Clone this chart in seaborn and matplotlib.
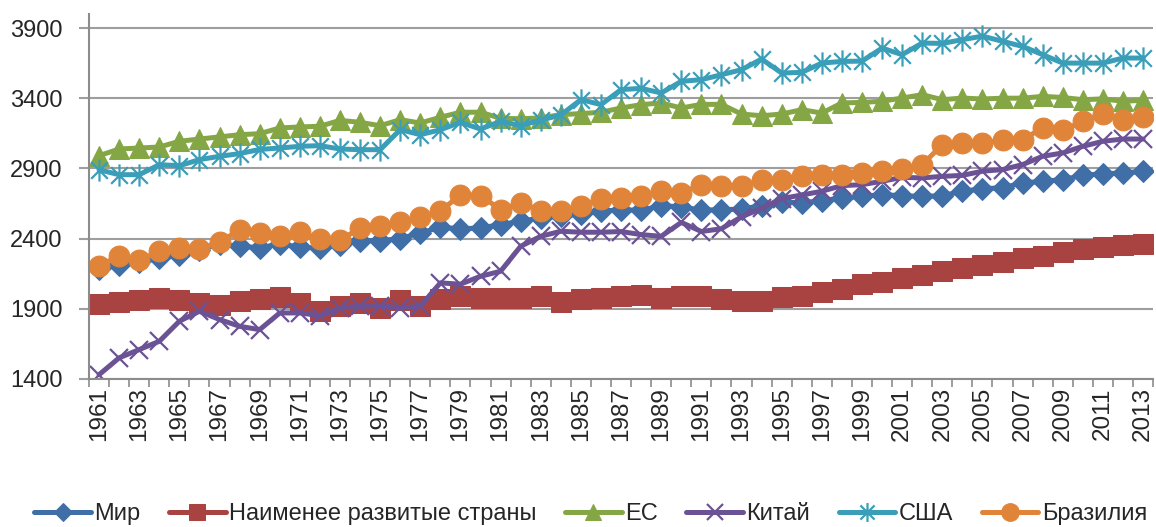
import numpy as np
import pandas as pd
import matplotlib
matplotlib.use("Agg")
import matplotlib.pyplot as plt
from matplotlib.path import Path
from matplotlib.ticker import FixedLocator
import seaborn as sns

years = list(range(1961, 2014))

world = [2180, 2210, 2230, 2260, 2280, 2320, 2360, 2345, 2335, 2360,
         2340, 2330, 2355, 2385, 2385, 2400, 2440, 2480, 2470, 2475,
         2500, 2523, 2547, 2560, 2575, 2594, 2606, 2600, 2635, 2625,
         2603, 2605, 2610, 2635, 2660, 2655, 2670, 2690, 2700, 2713,
         2705, 2700, 2705, 2737, 2755, 2762, 2796, 2808, 2820, 2850,
         2862, 2867, 2879]
ldc = [1937, 1946, 1960, 1975, 1965, 1941, 1929, 1953, 1968, 1984,
       1941, 1882, 1918, 1941, 1906, 1965, 1918, 1970, 1993, 1977,
       1977, 1977, 1989, 1946, 1970, 1975, 1989, 2001, 1975, 1989,
       1989, 1970, 1953, 1958, 1984, 1989, 2017, 2041, 2079, 2088,
       2119, 2143, 2167, 2191, 2214, 2231, 2262, 2278, 2302, 2326,
       2340, 2352, 2364]
eu = [2990, 3038, 3045, 3052, 3093, 3109, 3124, 3140, 3147, 3188,
      3195, 3200, 3242, 3228, 3204, 3247, 3223, 3264, 3300, 3300,
      3256, 3254, 3259, 3283, 3290, 3300, 3330, 3354, 3366, 3330,
      3356, 3356, 3287, 3275, 3287, 3318, 3294, 3366, 3370, 3378,
      3401, 3425, 3389, 3401, 3394, 3400, 3400, 3413, 3405, 3389,
      3395, 3378, 3385]
china = [1430, 1550, 1609, 1668, 1811, 1882, 1823, 1775, 1751, 1870,
         1870, 1851, 1906, 1918, 1922, 1906, 1918, 2084, 2075, 2131,
         2167, 2345, 2416, 2452, 2445, 2445, 2450, 2428, 2416, 2515,
         2450, 2470, 2555, 2615, 2685, 2710, 2737, 2777, 2784, 2808,
         2836, 2832, 2843, 2850, 2880, 2891, 2927, 2986, 3010, 3057,
         3093, 3109, 3109]
usa = [2890, 2855, 2855, 2926, 2919, 2962, 2986, 3005, 3035, 3045,
       3057, 3062, 3038, 3033, 3033, 3176, 3140, 3175, 3228, 3180,
       3235, 3205, 3244, 3280, 3390, 3354, 3461, 3470, 3437, 3520,
       3532, 3567, 3603, 3679, 3579, 3584, 3650, 3662, 3664, 3757,
       3710, 3793, 3790, 3817, 3842, 3805, 3769, 3710, 3650, 3650,
       3650, 3686, 3686]
brazil = [2207, 2274, 2245, 2309, 2333, 2326, 2376, 2459, 2442, 2416,
          2445, 2397, 2388, 2475, 2487, 2518, 2554, 2594, 2713, 2706,
          2606, 2653, 2599, 2594, 2630, 2682, 2692, 2701, 2737, 2725,
          2784, 2772, 2772, 2820, 2820, 2843, 2855, 2855, 2867, 2879,
          2896, 2926, 3069, 3081, 3081, 3100, 3105, 3188, 3171, 3235,
          3290, 3247, 3266]

labels = ["Мир", "Наименее развитые страны", "ЕС", "Китай", "США", "Бразилия"]
colors = ["#3F6FA6", "#A94341", "#85A645", "#6B5294", "#3A9EB8", "#E0843A"]

# excel-like asterisk: X plus vertical bar
star = Path([(0, -1), (0, 1), (-0.75, -0.75), (0.75, 0.75), (-0.75, 0.75), (0.75, -0.75)],
            [Path.MOVETO, Path.LINETO, Path.MOVETO, Path.LINETO, Path.MOVETO, Path.LINETO])

styles = [
    dict(marker="D", markersize=11),
    dict(marker="s", markersize=14),
    dict(marker="^", markersize=14),
    dict(marker="x", markersize=13, markeredgewidth=1.6),
    dict(marker=star, markersize=16, markeredgewidth=1.6),
    dict(marker="o", markersize=15),
]

sns.set_style("white")
plt.rcParams["font.family"] = ["Liberation Sans", "DejaVu Sans"]

fig = plt.figure(figsize=(11.56, 5.27), dpi=100)
ax = fig.add_axes([0.077, 0.281, 0.9205, 0.6925])

for vals, lab, col, st in zip([world, ldc, eu, china, usa, brazil], labels, colors, styles):
    df = pd.DataFrame({"year": years, "value": vals})
    sns.lineplot(data=df, x="year", y="value", ax=ax, color=col, label=lab,
                 linewidth=3.6, markeredgecolor=col, markerfacecolor=col, **st)

ax.set_xlim(1960.5, 2013.5)
ax.set_ylim(1400, 4000)
ax.set_yticks([1400, 1900, 2400, 2900, 3400, 3900])
ax.yaxis.grid(True, color="#9E9E9E", linewidth=1.5)
ax.set_axisbelow(True)

ax.set_xticks(years[::2])
ax.set_xticklabels([str(y) for y in years[::2]], rotation=90)
ax.xaxis.set_minor_locator(FixedLocator(np.arange(1960.5, 2014, 1)))
ax.tick_params(axis="x", which="major", length=0, pad=6, labelsize=17.5)
ax.tick_params(axis="x", which="minor", length=6, width=1.2, color="#8C8C8C", direction="out")
ax.tick_params(axis="y", which="major", length=7, width=1.5, color="#9E9E9E", direction="out",
               labelsize=17, pad=12)
ax.tick_params(left=True, bottom=True, which="both")

for s in ["top", "right"]:
    ax.spines[s].set_visible(False)
for s in ["left", "bottom"]:
    ax.spines[s].set_color("#8C8C8C")
    ax.spines[s].set_linewidth(1.5)

ax.set_xlabel("")
ax.set_ylabel("")

leg = ax.legend(loc="center", bbox_to_anchor=(0.511, 0.024), bbox_transform=fig.transFigure,
                ncol=6, frameon=False, fontsize=17, handlelength=2.4, handletextpad=0.15,
                columnspacing=1.2, markerscale=0.85, borderpad=0)

fig.savefig("out.png", dpi=100)
